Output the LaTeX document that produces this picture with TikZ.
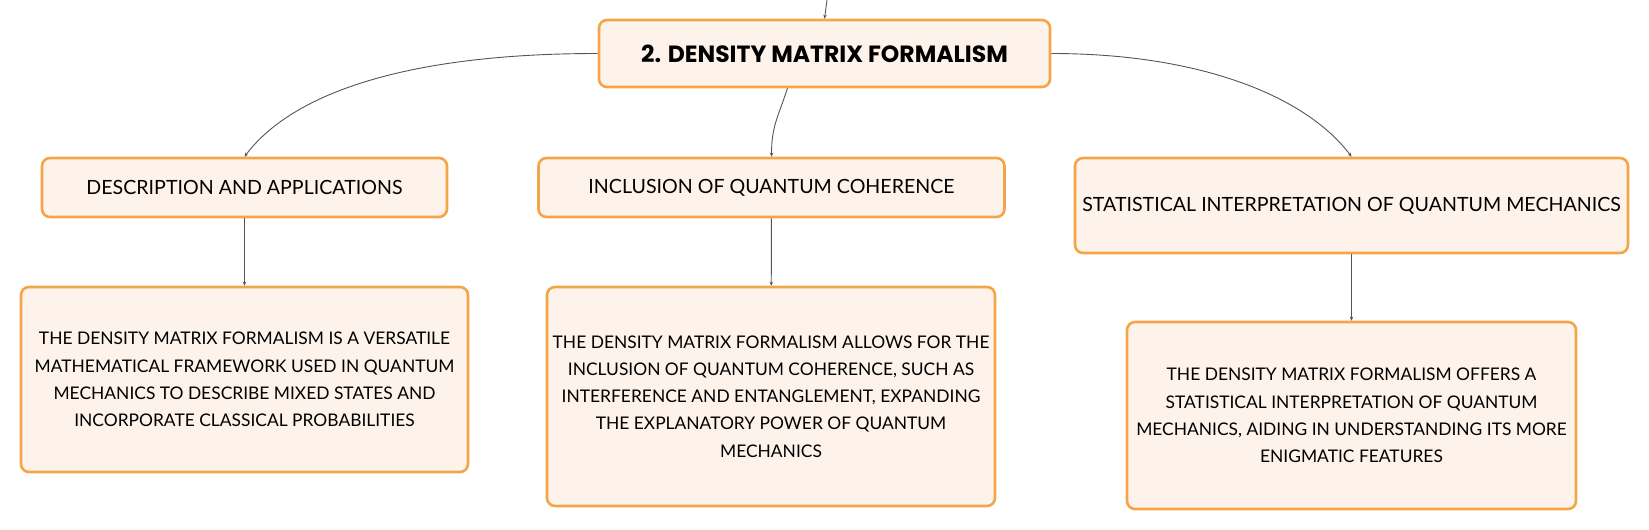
\documentclass[tikz,border=0pt]{standalone}
\usepackage{fontspec}
\setmainfont{Lato}
\newfontfamily\titlefont{Poppins}[UprightFont=* Bold]
\usetikzlibrary{arrows.meta,calc}
\definecolor{boxborder}{HTML}{F4A548}
\definecolor{boxfill}{HTML}{FDF3EA}
\definecolor{linkgray}{HTML}{555555}
\tikzset{
  x=1pt,y=-1pt,
  mapbox/.style={draw=boxborder,fill=boxfill,line width=2.6pt,rounded corners=8pt,
    inner sep=0pt,align=center,font=\fontsize{19.6}{27}\selectfont},
  bodybox/.style={mapbox,font=\fontsize{17.4}{27.2}\selectfont},
  link/.style={draw=linkgray,line width=0.9pt,-{Stealth[length=4pt,width=3.5pt]}},
}
\begin{document}
\begin{tikzpicture}
\useasboundingbox (0,0) rectangle (1649,530);
\node[mapbox,minimum width=451pt,minimum height=67pt,font=\titlefont\fontsize{23.5}{28}\selectfont] (T) at (824.5,53.5) {2. DENSITY MATRIX FORMALISM};
\node[mapbox,minimum width=405pt,minimum height=59pt] (A) at (244.5,187.5) {DESCRIPTION AND APPLICATIONS};
\node[mapbox,minimum width=466pt,minimum height=59pt] (B) at (771.5,187.5) {INCLUSION OF QUANTUM COHERENCE};
\node[mapbox,minimum width=553pt,minimum height=95pt] (C) at (1351.5,205.5) {STATISTICAL INTERPRETATION OF QUANTUM MECHANICS};
\node[bodybox,minimum width=447pt,minimum height=185pt] (A2) at (244.5,379.5) {THE DENSITY MATRIX FORMALISM IS A VERSATILE\\MATHEMATICAL FRAMEWORK USED IN QUANTUM\\MECHANICS TO DESCRIBE MIXED STATES AND\\INCORPORATE CLASSICAL PROBABILITIES};
\node[bodybox,minimum width=448pt,minimum height=219pt] (B2) at (771,396.5) {THE DENSITY MATRIX FORMALISM ALLOWS FOR THE\\INCLUSION OF QUANTUM COHERENCE, SUCH AS\\INTERFERENCE AND ENTANGLEMENT, EXPANDING\\THE EXPLANATORY POWER OF QUANTUM\\MECHANICS};
\node[bodybox,minimum width=449pt,minimum height=187pt] (C2) at (1351.5,415.5) {THE DENSITY MATRIX FORMALISM OFFERS A\\STATISTICAL INTERPRETATION OF QUANTUM\\MECHANICS, AIDING IN UNDERSTANDING ITS MORE\\ENIGMATIC FEATURES};
\coordinate (top) at (827,0);
\draw[link] (top) -- (T.north);
\draw[link] (T.west) .. controls +(-200,0) and +(45,-60) .. (A.north);
\draw[link] ([xshift=-37pt]T.south) .. controls +(-10,30) and +(0,-30) .. (B.north);
\draw[link] (T.east) .. controls +(150,0) and +(-45,-60) .. (C.north);
\draw[link] (A) -- (A2);
\draw[link] (B) -- (B2);
\draw[link] (C) -- (C2);
\end{tikzpicture}
\end{document}
